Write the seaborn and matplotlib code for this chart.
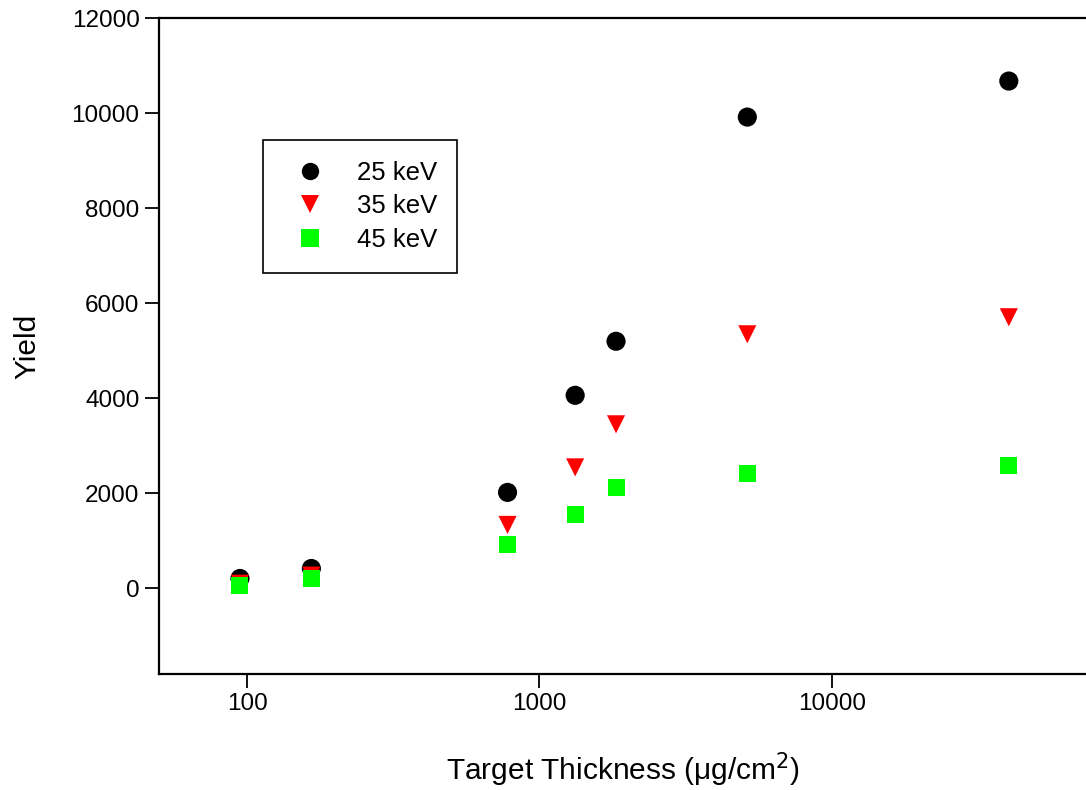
import matplotlib
matplotlib.use("Agg")
import matplotlib.pyplot as plt
import seaborn as sns
import pandas as pd
from matplotlib.lines import Line2D

# Data
thickness = [94.6, 166, 778, 1325, 1828, 5140, 40300]
yield_25 = [210, 420, 2021, 4063, 5200, 9916, 10674]
yield_35 = [100, 270, 1337, 2547, 3453, 5347, 5705]
yield_45 = [63, 210, 916, 1547, 2116, 2421, 2589]
series_labels = ["25 keV", "35 keV", "45 keV"]
colors = ["#000000", "#ff0000", "#00ff00"]
markers = ["o", "v", "s"]

rows = []
for lab, ys in zip(series_labels, [yield_25, yield_35, yield_45]):
    for x, y in zip(thickness, ys):
        rows.append({"Thickness": x, "Yield": y, "Energy": lab})
df = pd.DataFrame(rows)

sns.set_style("ticks")
plt.rcParams["font.family"] = ["Liberation Sans", "DejaVu Sans"]
plt.rcParams["text.color"] = "black"
plt.rcParams["axes.labelcolor"] = "black"

fig = plt.figure(figsize=(10.86, 7.90), dpi=100)
ax = fig.add_axes([0.1464, 0.1468, 0.8536, 0.8304])

sizes = {"25 keV": 190, "35 keV": 170, "45 keV": 150}
for lab, col, mk in zip(series_labels, colors, markers):
    sub = df[df["Energy"] == lab]
    sns.scatterplot(data=sub, x="Thickness", y="Yield", color=col, marker=mk,
                    s=sizes[lab], edgecolor="none", linewidth=0, ax=ax,
                    legend=False, zorder=3)

ax.set_xscale("log")
ax.set_xlim(50, 74000)
ax.set_ylim(-1800, 12000)
ax.set_xticks([100, 1000, 10000])
ax.set_xticklabels(["100", "1000", "10000"])
ax.xaxis.set_minor_locator(matplotlib.ticker.NullLocator())
ax.set_yticks([0, 2000, 4000, 6000, 8000, 10000, 12000])
ax.set_yticklabels(["0", "2000", "4000", "6000", "8000", "10000", "12000"])

for sp in ["left", "bottom", "top"]:
    ax.spines[sp].set_linewidth(1.6)
    ax.spines[sp].set_color("black")
ax.spines["right"].set_visible(False)
ax.tick_params(axis="both", direction="out", length=10, width=1.3,
               labelsize=17.5, colors="black", labelcolor="black", pad=4)
ax.tick_params(axis="x", pad=4)

ax.set_xlabel("Target Thickness (\u03bcg/cm$^2$)", fontsize=21.5, labelpad=25,
              color="black")
ax.set_ylabel("Yield", fontsize=21.5, labelpad=22, color="black")

handles = [Line2D([0], [0], linestyle="none", marker=mk, color=col,
                  markersize=12.5, markeredgewidth=0)
           for col, mk in zip(colors, markers)]
leg = ax.legend(handles, series_labels, loc="upper left",
                bbox_to_anchor=(0.112, 0.814), fontsize=18.5, frameon=True,
                fancybox=False, edgecolor="black", framealpha=1,
                borderpad=0.8, labelspacing=0.38, handletextpad=0.75,
                borderaxespad=0, handlelength=2.1, labelcolor="black")
leg.get_frame().set_linewidth(1.2)

fig.savefig("out.png", dpi=100)
